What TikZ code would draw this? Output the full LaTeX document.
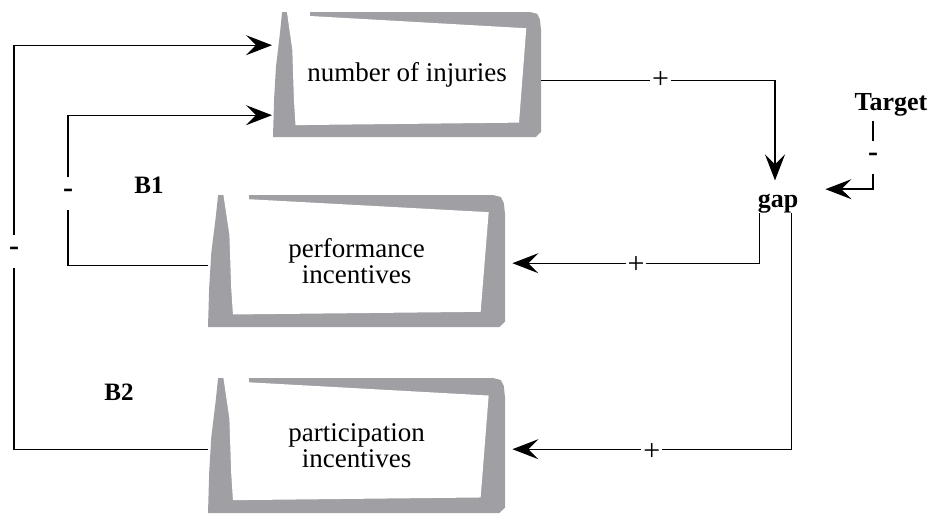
\documentclass[tikz,border=0pt]{standalone}
\usepackage{fontspec}
\setmainfont{Liberation Serif}
\usetikzlibrary{arrows.meta}
\definecolor{stockgray}{RGB}{160,160,164}
\tikzset{
  conn/.style={line width=1.4pt, -{Stealth[length=26pt,width=20pt,inset=10pt]}},
  stocktext/.style={anchor=north west, inner sep=0pt, align=center, font=\fontsize{27}{26}\selectfont},
  varname/.style={font=\bfseries\fontsize{26}{26}\selectfont, inner sep=0pt},
  loopname/.style={font=\bfseries\fontsize{25}{25}\selectfont, inner sep=0pt},
  signplus/.style={fill=white, inner xsep=2pt, inner ysep=0pt, font=\fontsize{30}{30}\selectfont},
  signminus/.style={fill=white, inner xsep=1pt, inner ysep=0pt, minimum height=33pt, font=\bfseries\fontsize{30}{30}\selectfont},
}
\newcommand{\stock}[6]{%
  \begin{scope}[shift={(#2,#3)}, x=#4pt, y=-#5pt]
    \fill[stockgray] (0.034,0) -- (0.026,0.168) -- (0.011,0.44) -- (0.004,0.70) -- (0,1)
      -- (0.981,1) -- (1,0.96) -- (1,0.144) -- (0.996,0.06) -- (0.986,0.015) -- (0.959,0) -- cycle;
    \fill[white] (0.052,0) -- (0.138,0) -- (0.138,0.032) -- (0.945,0.13) -- (0.918,0.885)
      -- (0.084,0.905) -- (0.078,0.70) -- (0.072,0.30) -- cycle;
  \end{scope}
  \node[stocktext, minimum width=#4pt, minimum height=#5pt] (#1) at (#2,#3) {#6};
}
\begin{document}
\begin{tikzpicture}[x=1pt,y=-1pt]
\useasboundingbox (0,0) rectangle (932,514);

\stock{ni}{273}{12}{268}{125}{number of injuries}
\stock{pi}{208}{195}{297}{132}{performance\\incentives}
\stock{pa}{208}{378}{297}{135}{participation\\incentives}

\node[varname, anchor=base] (gap) at (778,207) {gap};
\node[varname, anchor=base] (tg) at (891,110) {Target};
\node[loopname] (b1) at (149,185) {B1};
\node[loopname] (b2) at (119,392) {B2};

% number of injuries -> gap
\draw[conn] ([yshift=-5.5pt]ni.east) -| ([xshift=-3pt,yshift=13pt]gap.north)
  node[signplus,pos=0.255] {+};
% Target -> gap
\draw[conn] ([xshift=-18pt,yshift=-5pt]tg.south) |- ([xshift=27pt,yshift=14pt]gap.east)
  node[signminus,pos=0.27] {-};
% gap -> performance incentives
\draw[conn] ([xshift=2pt]gap.south west) |- ([xshift=7pt,yshift=-2pt]pi.east)
  node[signplus,pos=0.75,yshift=-2pt] {+};
% gap -> participation incentives
\draw[conn] ([xshift=-7pt]gap.south east) |- ([xshift=7pt,yshift=-3.5pt]pa.east)
  node[signplus,pos=0.75,yshift=-3pt] {+};
% performance incentives -> number of injuries (B1)
\draw[conn] ([yshift=-4pt]pi.west) -- ++(-140,0) |- ([xshift=-1pt,yshift=-40.5pt]ni.west)
  node[signminus,pos=0.24] {-};
% participation incentives -> number of injuries (B2)
\draw[conn] ([yshift=-3.5pt]pa.west) -- ++(-194,0) |- ([xshift=-1pt,yshift=29.5pt]ni.west)
  node[signminus,pos=0.245] {-};
\end{tikzpicture}
\end{document}
